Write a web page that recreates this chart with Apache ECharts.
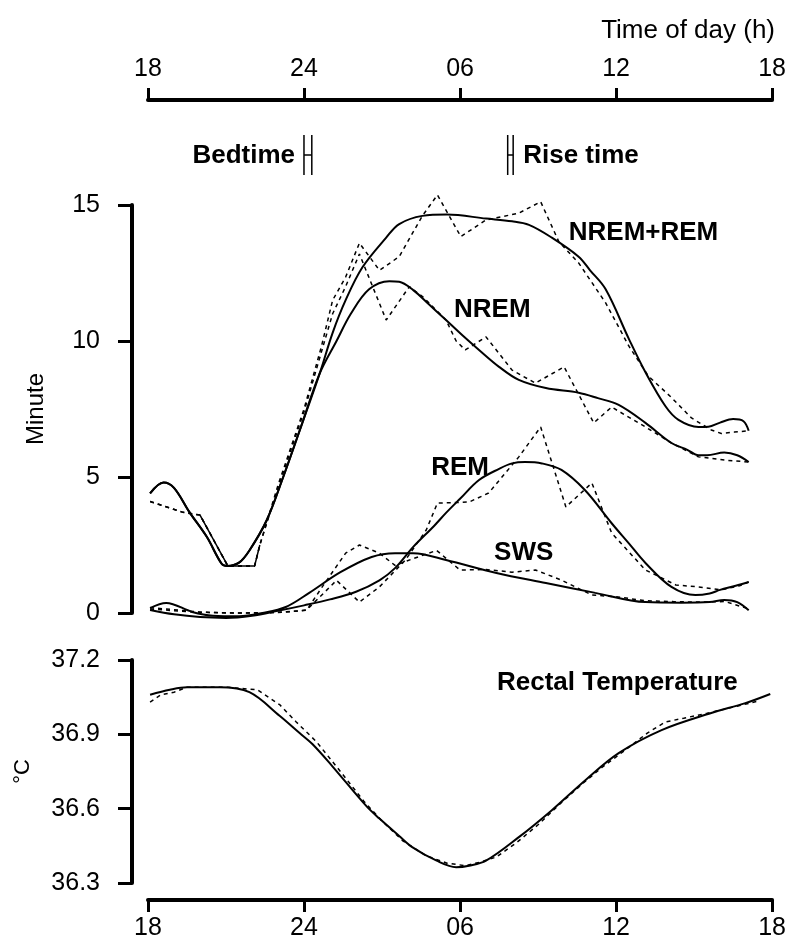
<!DOCTYPE html>
<html>
<head>
<meta charset="utf-8">
<script src="https://cdn.jsdelivr.net/npm/echarts@6/dist/echarts.min.js"></script>
<style>
  html, body { margin: 0; padding: 0; background: #fff; }
  #chart { width: 789px; height: 947px; }
</style>
</head>
<body>
<div id="chart"></div>
<script>
// time is in hours counted from 18:00 of day 1 (18 .. 42)
const hourTicks = [18, 24, 30, 36, 42];

// sleep stages, minutes per epoch: smoothed fit (solid) and raw means (dashed)
const nremRemFit = [[18.08,4.4],[18.6,4.8],[19.0,4.6],[19.6,3.7],[20.26,2.8],[20.84,1.8],[21.05,1.73],[21.5,1.85],[21.9,2.3],[22.56,3.4],[23.2,5.0],[23.83,6.7],[24.6,8.8],[25.1,10.3],[25.6,11.5],[26.24,12.7],[27.16,13.8],[27.66,14.3],[28.55,14.6],[29.5,14.65],[31.0,14.5],[32.0,14.4],[32.65,14.27],[33.53,13.8],[34.56,13.1],[35.0,12.6],[35.6,11.9],[36.5,10.06],[37.13,8.85],[37.9,7.6],[38.4,7.1],[39.17,6.84],[39.55,6.85],[40.0,7.0],[40.5,7.13],[40.9,7.05],[41.1,6.7]];
const nremRemRaw = [[18.08,4.1],[19.35,3.7],[20.0,3.6],[21.07,1.73],[22.1,1.73],[22.3,2.5],[23.0,4.7],[24.0,7.5],[24.67,9.8],[25.1,11.5],[25.6,12.35],[26.13,13.6],[26.9,12.6],[27.66,13.1],[28.55,14.6],[29.13,15.37],[30.03,13.84],[31.0,14.45],[32.26,14.7],[33.1,15.12],[33.8,13.65],[34.56,12.87],[35.6,11.4],[36.5,9.8],[37.25,8.7],[38.1,7.95],[38.9,7.17],[39.66,6.73],[40.05,6.6],[40.55,6.65],[41.1,6.7]];

const nremFit = [[18.08,4.4],[18.6,4.8],[19.0,4.6],[19.6,3.7],[20.26,2.8],[20.84,1.8],[21.05,1.73],[21.5,1.85],[21.9,2.3],[22.56,3.4],[23.2,5.0],[23.83,6.7],[24.6,8.8],[25.25,10.0],[25.8,11.0],[26.5,11.9],[27.28,12.2],[27.66,12.18],[28.2,11.87],[28.8,11.35],[29.46,10.77],[30.1,10.2],[30.73,9.67],[31.5,9.05],[32.26,8.57],[33.3,8.27],[34.56,8.1],[35.3,7.9],[36.1,7.65],[37.13,6.99],[38.13,6.25],[38.74,6.0],[39.17,5.8],[39.5,5.8],[40.16,5.9],[40.66,5.8],[41.1,5.55]];
const nremRaw = [[18.08,4.1],[19.35,3.7],[20.0,3.6],[21.07,1.73],[22.1,1.73],[22.3,2.5],[23.0,4.6],[24.0,7.4],[24.67,9.6],[25.1,11.0],[25.6,12.0],[26.13,13.2],[27.16,10.77],[28.05,12.0],[28.6,11.6],[29.46,10.77],[29.85,10.0],[30.2,9.67],[31.0,10.15],[32.0,8.93],[32.9,8.45],[34.0,9.05],[35.14,6.99],[35.83,7.57],[37.13,6.84],[38.13,6.25],[39.17,5.74],[40.2,5.62],[41.1,5.55]];

const remFit = [[18.08,0.11],[19.0,-0.05],[20.0,-0.15],[21.0,-0.18],[22.0,-0.1],[23.0,0.08],[24.0,0.28],[25.0,0.5],[26.0,0.78],[26.9,1.2],[27.5,1.65],[28.2,2.43],[29.0,3.2],[29.46,3.68],[30.0,4.2],[30.73,4.89],[31.5,5.3],[32.0,5.5],[32.5,5.55],[33.15,5.5],[33.9,5.26],[34.8,4.52],[35.83,3.3],[36.5,2.55],[37.13,1.84],[38.13,0.96],[39.05,0.66],[39.6,0.72],[40.0,0.85],[40.6,1.0],[41.1,1.14]];
const remRaw = [[18.08,0.15],[19.5,0.05],[21.0,0.0],[22.5,0.0],[23.5,0.05],[24.1,0.11],[25.25,1.2],[26.13,0.4],[26.9,0.96],[27.9,1.95],[28.7,3.05],[29.13,4.04],[30.35,4.08],[31.1,4.41],[32.26,5.74],[33.1,6.84],[34.07,3.9],[35.07,4.78],[35.83,2.94],[37.13,1.58],[38.3,1.03],[39.17,0.96],[40.05,0.85],[40.75,1.0],[41.1,1.14]];

const swsFit = [[18.08,0.18],[18.7,0.37],[19.7,0.04],[20.5,-0.1],[21.5,-0.12],[22.4,0.0],[23.3,0.22],[24.2,0.74],[25.4,1.5],[26.6,2.06],[27.5,2.2],[28.2,2.2],[29.46,1.95],[31.4,1.47],[33.3,1.1],[35.2,0.74],[37.13,0.4],[38.5,0.38],[39.6,0.4],[40.16,0.48],[40.66,0.4],[41.1,0.1]];
const swsRaw = [[18.08,0.2],[19.0,0.12],[20.0,0.03],[21.5,0.0],[23.0,0.02],[24.1,0.1],[24.7,0.96],[25.6,2.2],[26.13,2.5],[26.9,2.2],[27.5,1.75],[28.2,2.0],[29.1,2.3],[30.0,1.58],[31.0,1.6],[32.0,1.5],[32.9,1.58],[33.9,1.21],[35.07,0.66],[36.0,0.6],[37.13,0.45],[38.2,0.42],[39.2,0.4],[40.2,0.42],[41.1,0.15]];

// rectal temperature, deg C
const tempFit = [[18.08,37.06],[18.84,37.08],[19.5,37.09],[20.76,37.09],[21.9,37.07],[23.06,36.975],[23.83,36.905],[24.33,36.86],[25.1,36.77],[26.4,36.61],[26.9,36.56],[27.66,36.49],[28.16,36.445],[29.1,36.39],[29.85,36.364],[30.35,36.37],[31.0,36.39],[32.26,36.485],[33.53,36.594],[34.83,36.716],[36.1,36.824],[37.75,36.917],[39.66,36.986],[40.97,37.026],[41.93,37.063]];
const tempRaw = [[18.08,37.03],[18.5,37.06],[19.0,37.07],[19.5,37.09],[21.0,37.09],[22.2,37.08],[23.06,37.02],[23.7,36.95],[24.48,36.87],[25.4,36.75],[26.3,36.63],[27.0,36.55],[27.8,36.47],[28.7,36.41],[29.5,36.38],[30.2,36.37],[30.8,36.385],[31.4,36.405],[32.2,36.465],[33.0,36.535],[33.8,36.615],[34.7,36.70],[35.5,36.77],[36.4,36.84],[37.2,36.905],[37.9,36.95],[38.6,36.965],[39.5,36.985],[40.5,37.01],[41.5,37.035]];

// bedtime / rise time markers (hours)
const bedtime = [23.98, 24.28];
const riseTime = [31.79, 32.0];
const markerNames = ['Bedtime', 'Rise time'];

// curve names
const sleepLabels = ['NREM+REM', 'NREM', 'REM', 'SWS'];
const tempLabels = ['Rectal Temperature'];

const FONT = '"Liberation Sans", Arial, Helvetica, sans-serif';
const INK = '#000';

const chart = echarts.init(document.getElementById('chart'), null, { renderer: 'canvas' });

function hourLabel(v) {
  if (v === 24) return '24';
  const h = v % 24;
  return (h < 10 ? '0' : '') + h;
}

function solid(data, xi, yi) {
  return {
    type: 'line', data, xAxisIndex: xi, yAxisIndex: yi,
    smooth: 0.35, symbol: 'none', clip: false, z: 4,
    lineStyle: { color: INK, width: 2 }
  };
}
function dashed(data, xi, yi) {
  return {
    type: 'line', data, xAxisIndex: xi, yAxisIndex: yi,
    symbol: 'none', clip: false, z: 3,
    lineStyle: { color: INK, width: 1.5, type: [4, 4] }
  };
}

// bold curve names, anchored at data coords (left edge, vertical middle)
function nameLabels(names, anchors, xi, yi) {
  return {
    type: 'custom', xAxisIndex: xi, yAxisIndex: yi, z: 6,
    data: anchors,
    renderItem: function (params, api) {
      const p = api.coord([api.value(0), api.value(1)]);
      return {
        type: 'text',
        style: {
          text: names[params.dataIndex], x: p[0], y: p[1],
          align: 'left', verticalAlign: 'middle',
          font: 'bold 26px ' + FONT, fill: INK
        }
      };
    }
  };
}

const axisLine = { show: true, onZero: false, lineStyle: { color: INK, width: 4 } };
const axisTick = (len) => ({ show: true, length: len, lineStyle: { color: INK, width: 3 } });

const option = {
  animation: false,
  textStyle: { fontFamily: FONT, color: INK },
  title: {
    text: 'Time of day (h)', right: 9, top: 13,
    textStyle: { fontFamily: FONT, fontSize: 26, fontWeight: 'normal', color: INK }
  },
  grid: [
    { left: 148, right: 15, top: 205, height: 408 },
    { left: 148, right: 15, top: 660, height: 223 },
    { left: 148, right: 15, top: 135, height: 40 }
  ],
  xAxis: [
    {
      gridIndex: 0, type: 'value', min: 18, max: 42, interval: 6,
      position: 'top', offset: 105,
      axisLine, axisTick: axisTick(12), splitLine: { show: false },
      axisLabel: { margin: 18, fontSize: 25, color: INK, fontFamily: FONT, formatter: hourLabel }
    },
    {
      gridIndex: 1, type: 'value', min: 18, max: 42, interval: 6,
      position: 'bottom', offset: 17,
      axisLine, axisTick: axisTick(12), splitLine: { show: false },
      axisLabel: { margin: 16, fontSize: 25, color: INK, fontFamily: FONT, formatter: hourLabel }
    },
    { gridIndex: 2, type: 'value', min: 18, max: 42, show: false }
  ],
  yAxis: [
    {
      gridIndex: 0, type: 'value', min: 0, max: 15, interval: 5, offset: 16,
      axisLine, axisTick: axisTick(14), splitLine: { show: false },
      axisLabel: { margin: 32, fontSize: 25, color: INK, fontFamily: FONT },
      name: 'Minute', nameLocation: 'middle', nameRotate: 90, nameGap: 84,
      nameTextStyle: { fontSize: 24, color: INK, fontFamily: FONT }
    },
    {
      gridIndex: 1, type: 'value', min: 36.3, max: 37.2, interval: 0.3, offset: 16,
      axisLine, axisTick: axisTick(14), splitLine: { show: false },
      axisLabel: { margin: 32, fontSize: 25, color: INK, fontFamily: FONT, formatter: (v) => v.toFixed(1) },
      name: '°C', nameLocation: 'middle', nameRotate: 90, nameGap: 98,
      nameTextStyle: { fontSize: 22, color: INK, fontFamily: FONT }
    },
    { gridIndex: 2, type: 'value', min: 0, max: 1, show: false }
  ],
  series: [
    dashed(nremRemRaw, 0, 0),
    dashed(nremRaw, 0, 0),
    dashed(remRaw, 0, 0),
    dashed(swsRaw, 0, 0),
    // the flat stretch before sleep onset is printed solid in the original
    Object.assign(solid(nremRemRaw.slice(2, 6), 0, 0), { smooth: false, lineStyle: { color: INK, width: 1.5 } }),
    solid(nremRemFit, 0, 0),
    solid(nremFit, 0, 0),
    solid(remFit, 0, 0),
    solid(swsFit, 0, 0),
    dashed(tempRaw, 1, 1),
    solid(tempFit, 1, 1),
    nameLabels(sleepLabels, [[34.18, 13.97], [29.77, 11.14], [28.89, 5.33], [31.31, 2.2]], 0, 0),
    nameLabels(tempLabels, [[31.42, 37.107]], 1, 1),
    {
      type: 'custom', xAxisIndex: 2, yAxisIndex: 2, z: 5,
      data: [bedtime, riseTime],
      renderItem: function (params, api) {
        const a = api.coord([api.value(0), 1]);
        const b = api.coord([api.value(1), 0]);
        const x0 = a[0], x1 = b[0], top = a[1], bottom = b[1];
        const mid = (top + bottom) / 2;
        const style = { stroke: INK, lineWidth: 1.5 };
        const left = params.dataIndex === 0;
        return {
          type: 'group',
          children: [
            { type: 'line', shape: { x1: x0, y1: top, x2: x0, y2: bottom }, style },
            { type: 'line', shape: { x1: x1, y1: top, x2: x1, y2: bottom }, style },
            { type: 'line', shape: { x1: x0, y1: mid, x2: x1, y2: mid }, style },
            {
              type: 'text',
              style: {
                text: markerNames[params.dataIndex],
                x: left ? x0 - 9 : x1 + 10, y: mid + 1,
                align: left ? 'right' : 'left', verticalAlign: 'middle',
                font: 'bold 26px ' + FONT, fill: INK
              }
            }
          ]
        };
      }
    }
  ]
};

chart.setOption(option);
</script>
</body>
</html>
